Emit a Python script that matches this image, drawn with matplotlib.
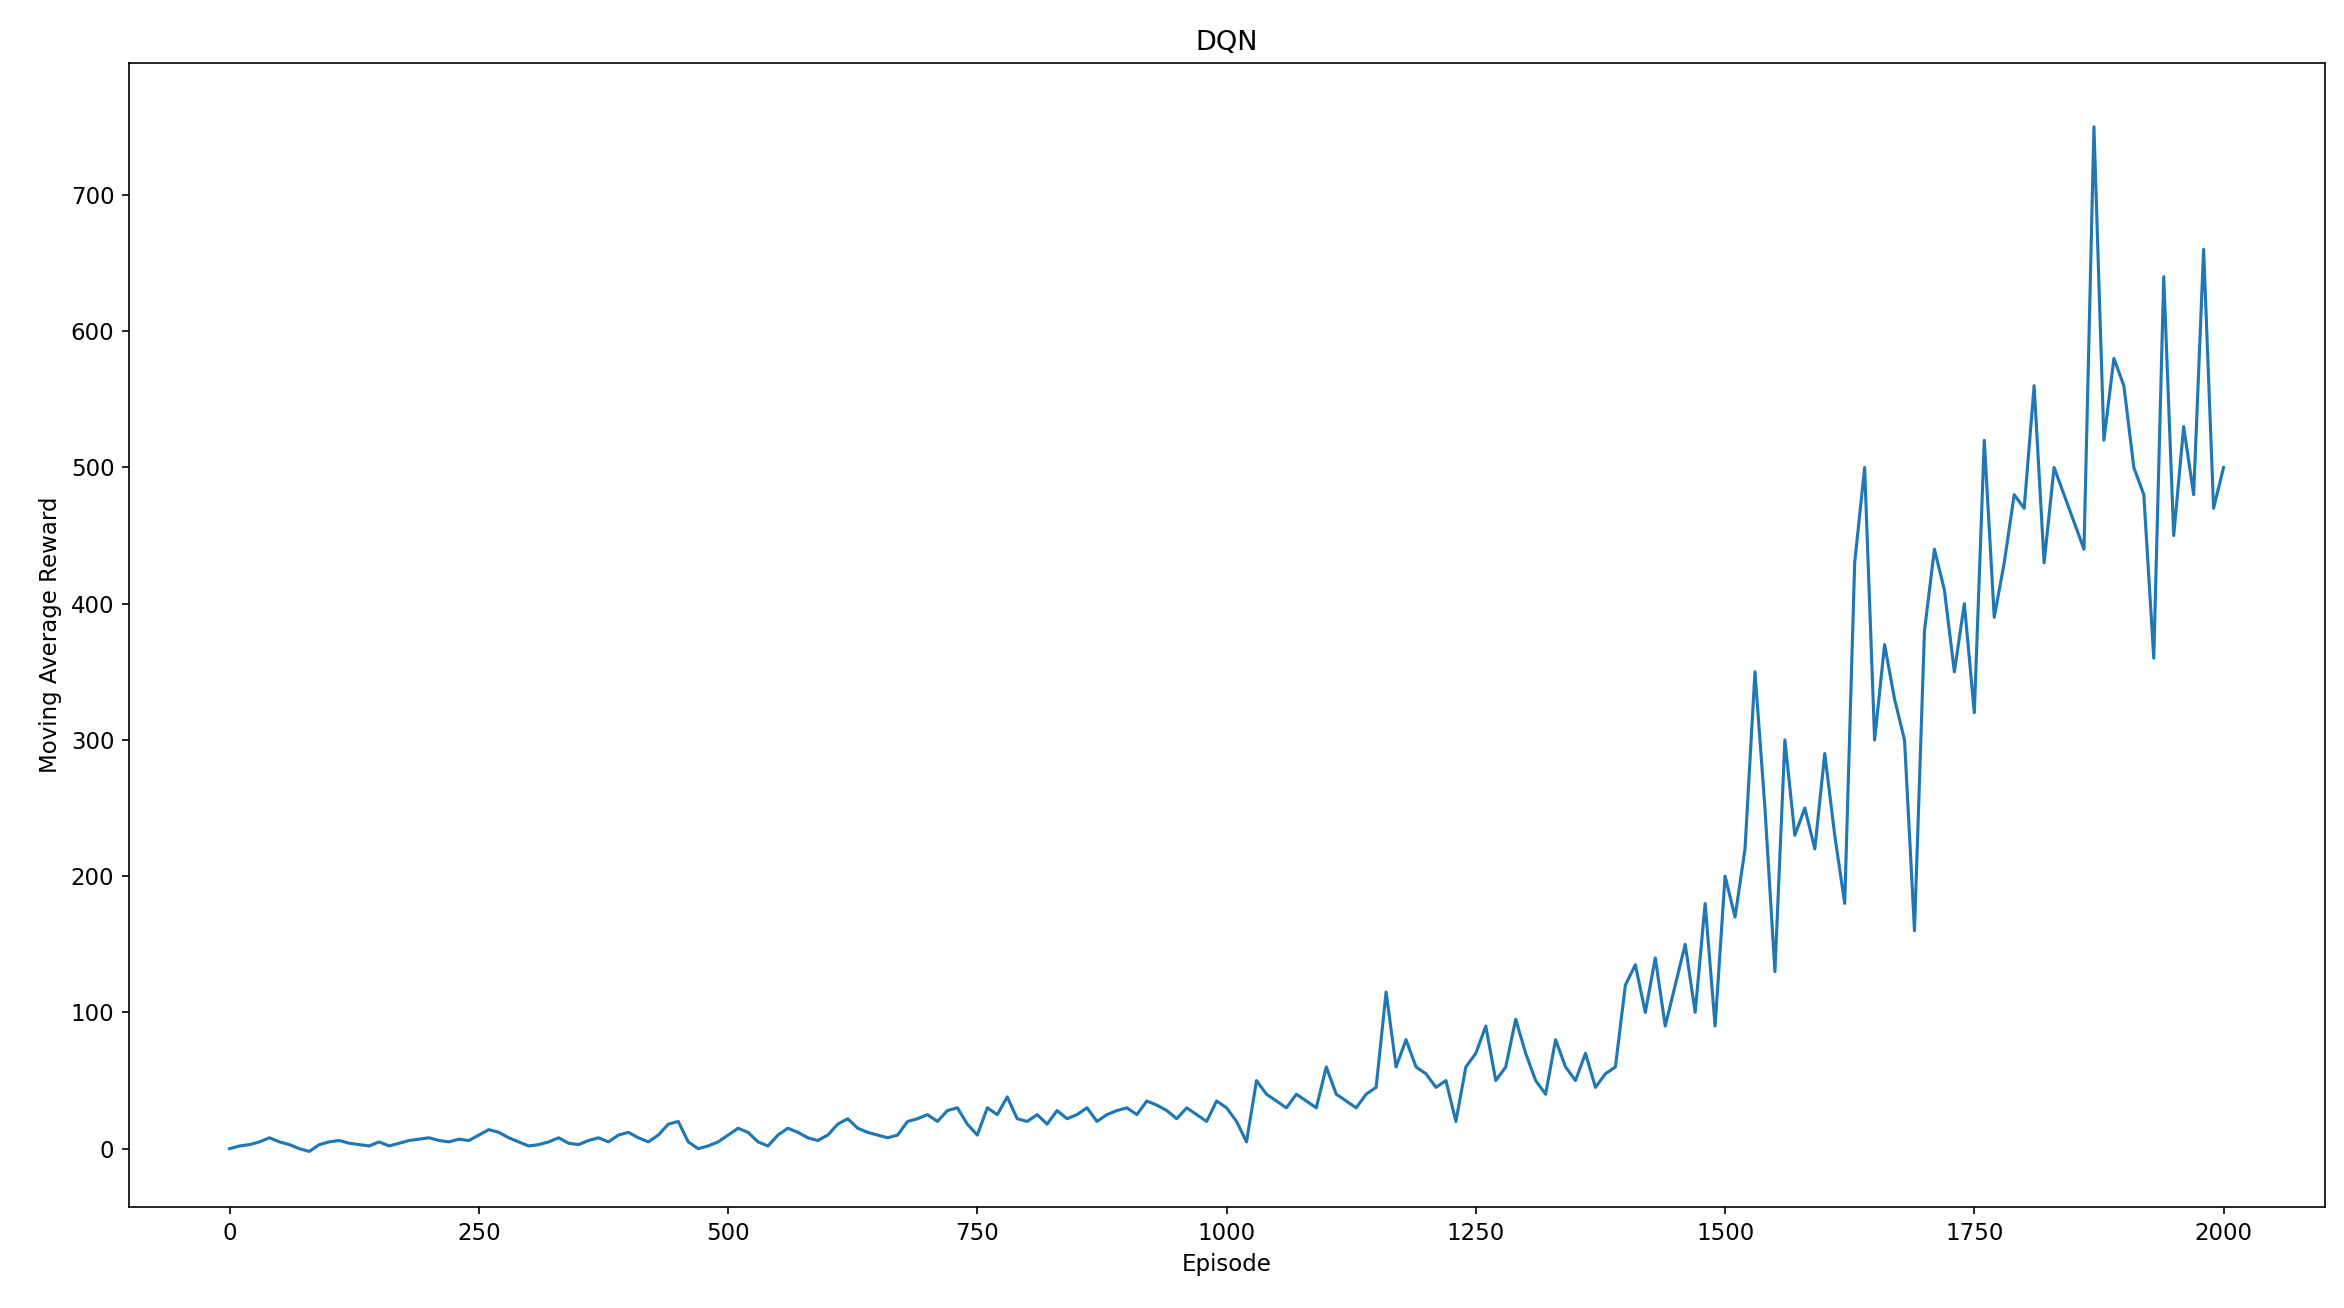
import matplotlib
matplotlib.use("Agg")
import matplotlib.pyplot as plt

episodes = list(range(0, 2001, 10))
reward = [
    0, 2, 3, 5, 8, 5, 3, 0, -2, 3,
    5, 6, 4, 3, 2, 5, 2, 4, 6, 7,
    8, 6, 5, 7, 6, 10, 14, 12, 8, 5,
    2, 3, 5, 8, 4, 3, 6, 8, 5, 10,
    12, 8, 5, 10, 18, 20, 5, 0, 2, 5,
    10, 15, 12, 5, 2, 10, 15, 12, 8, 6,
    10, 18, 22, 15, 12, 10, 8, 10, 20, 22,
    25, 20, 28, 30, 18, 10, 30, 25, 38, 22,
    20, 25, 18, 28, 22, 25, 30, 20, 25, 28,
    30, 25, 35, 32, 28, 22, 30, 25, 20, 35,
    30, 20, 5, 50, 40, 35, 30, 40, 35, 30,
    60, 40, 35, 30, 40, 45, 115, 60, 80, 60,
    55, 45, 50, 20, 60, 70, 90, 50, 60, 95,
    70, 50, 40, 80, 60, 50, 70, 45, 55, 60,
    120, 135, 100, 140, 90, 120, 150, 100, 180, 90,
    200, 170, 220, 350, 250, 130, 300, 230, 250, 220,
    290, 230, 180, 430, 500, 300, 370, 330, 300, 160,
    380, 440, 410, 350, 400, 320, 520, 390, 430, 480,
    470, 560, 430, 500, 480, 460, 440, 750, 520, 580,
    560, 500, 480, 360, 640, 450, 530, 480, 660, 470,
    500,
]

fig = plt.figure(figsize=(2344 / 150, 1308 / 150), dpi=150)
ax = fig.add_axes([0.055, 0.077, 0.937, 0.875])
ax.plot(episodes, reward, color="#1f77b4", linewidth=1.5)
ax.set_xlim(-101, 2102)
ax.set_ylim(-43, 797)
ax.set_xticks([0, 250, 500, 750, 1000, 1250, 1500, 1750, 2000])
ax.set_yticks([0, 100, 200, 300, 400, 500, 600, 700])
ax.tick_params(labelsize=11)
ax.set_title("DQN", fontsize=13)
ax.set_xlabel("Episode", fontsize=11)
ax.set_ylabel("Moving Average Reward", fontsize=11)
fig.savefig("out.png", dpi=150)
